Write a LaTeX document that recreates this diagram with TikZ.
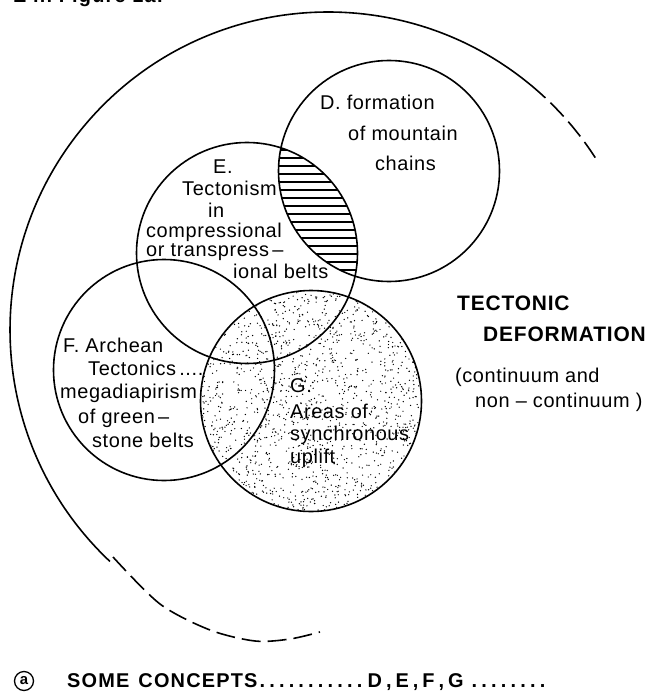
\documentclass[tikz,border=0pt]{standalone}
\usepackage{fontspec}
\setmainfont{Liberation Sans}
\newcommand\lsdot{.\kern4.2bp}
\begin{document}
\begin{tikzpicture}[x=1bp,y=-1bp,
  ring/.style={draw, circle, line width=1.6bp, minimum size=221bp, inner sep=0pt},
  outerline/.style={line width=1.6bp},
  outerdash/.style={line width=1.6bp, dash pattern=on 19bp off 7bp},
  hatchline/.style={line width=1.3bp},
  lbl/.style={anchor=base west, inner sep=0pt, font=\fontsize{20}{24}\selectfont\addfontfeatures{LetterSpace=3}},
  big/.style={anchor=base west, inner sep=0pt, font=\fontsize{21}{25}\selectfont\bfseries\addfontfeatures{LetterSpace=4}},
  capt/.style={anchor=base west, inner sep=0pt, font=\fontsize{20}{24}\selectfont\bfseries\addfontfeatures{LetterSpace=6}}]
\useasboundingbox (0,0) rectangle (657,696);
\clip (0,0) rectangle (657,696);
% stipple in G
\begin{scope}
  \clip (311,401) circle[radius=110];
  \pgfmathsetseed{12}
  \foreach \i in {1,...,1700}{
    \pgfmathsetmacro\px{311+111*rand}
    \pgfmathsetmacro\py{401+111*rand}
    \fill (\px,\py) circle[radius=0.7];
  }
\end{scope}
% hatching in D and E
\begin{scope}
  \clip (389,171) circle[radius=110.5];
  \clip (247,253) circle[radius=110.5];
  \foreach \yy in {150,158,...,294} \draw[hatchline] (260,\yy) -- (380,\yy);
\end{scope}
% circles
\node[ring] (D) at (389,171) {};
\node[ring] (E) at (247,253) {};
\node[ring] (F) at (164,370) {};
\node[ring] (G) at (311,401) {};
% outer boundary
\draw[outerline] (328,330) ++(-50.3:318) arc[start angle=-50.3, end angle=-226.7, radius=318];
\draw[outerdash] (328,330) ++(-50.3:318) arc[start angle=-50.3, end angle=-32.8, radius=318];
\draw[outerdash] plot[smooth] coordinates {(113,557) (160,604) (210,630) (255,641) (290,639) (320,632)};
% labels D
\node[lbl] (d1) at (320,110) {D. formation};
\node[lbl] (d2) at (348,140) {of mountain};
\node[lbl] (d3) at (375,170) {chains};
% labels E
\node[lbl] (e1) at (213,173) {E.};
\node[lbl] (e2) at (182,195) {Tectonism};
\node[lbl] (e3) at (208,217) {in};
\node[lbl] (e4) at (146,237) {compressional};
\node[lbl] (e5) at (146,256) {or transpress\,–};
\node[lbl] (e6) at (233,278) {ional belts};
% labels F
\node[lbl] (f1) at (63,352) {F. Archean};
\node[lbl] (f2) at (88,375) {Tectonics\,....};
\node[lbl] (f3) at (60,398) {megadiapirism};
\node[lbl] (f4) at (78,423) {of green\,–};
\node[lbl] (f5) at (92,447) {stone belts};
% labels G
\node[lbl] (g1) at (290,392) {G.};
\node[lbl] (g2) at (290,418) {Areas of};
\node[lbl] (g3) at (290,440) {synchronous};
\node[lbl] (g4) at (290,463) {uplift};
% right side
\node[big] (t1) at (457,310) {TECTONIC};
\node[big] (t2) at (483,341) {DEFORMATION};
\node[lbl] (c1) at (455,382) {(continuum\hspace{6bp}and};
\node[lbl] (c2) at (475,407) {non – continuum )};
% caption
\node[circle, draw, line width=1.3bp, minimum size=19bp, inner sep=0pt,
      font=\fontsize{15}{15}\selectfont\bfseries] (ca) at (24,681) {a};
\node[capt] (cap) at (67,687) {SOME\hspace{9bp}CONCEPTS\hspace{2bp}\lsdot\lsdot\lsdot\lsdot\lsdot\lsdot\lsdot\lsdot\lsdot\lsdot\lsdot\hspace{1bp}D\kern4bp,\kern4bp E\kern4bp,\kern4bp F\kern4bp,\kern4bp G\hspace{8bp}\lsdot\lsdot\lsdot\lsdot\lsdot\lsdot\lsdot\lsdot};
% cut-off top line
\node[capt] (top) at (13,3) {E in Figure 1a.};
\end{tikzpicture}
\end{document}
